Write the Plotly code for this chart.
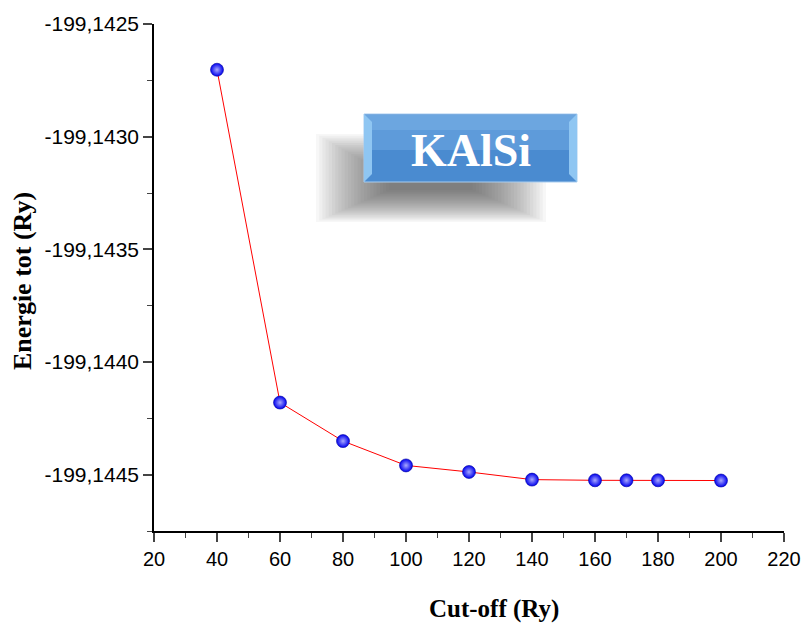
import plotly.graph_objects as go

cutoff = [40, 60, 80, 100, 120, 140, 160, 170, 180, 200]
energy = [-199.142703, -199.144180, -199.144351, -199.144459, -199.144488,
          -199.144522, -199.144525, -199.144525, -199.144525, -199.144526]

y_ticks = [-199.1445, -199.1440, -199.1435, -199.1430, -199.1425]
y_ticktext = ["-199,1445", "-199,1440", "-199,1435", "-199,1430", "-199,1425"]
y_minor = [-199.14475, -199.14425, -199.14375, -199.14325, -199.14275]
x_ticks = [20, 40, 60, 80, 100, 120, 140, 160, 180, 200, 220]

W, H = 804, 623
SL, SR, ST, SB = 154, 784, 24, 531          # plot area edges in screen pixels
L, T = SL, ST
R, B = W - SR, H - SB
pw, ph = W - L - R, H - T - B


def px(x):
    return (x - L) / pw


def py(y):
    return (H - B - y) / ph


fig = go.Figure()
fig.add_trace(go.Scatter(
    x=cutoff, y=energy, mode="lines+markers",
    line=dict(color="#ff0000", width=1),
    marker=dict(size=13, color="#0000ee",
                gradient=dict(type="radial", color="#a8a8ff"),
                line=dict(width=0.6, color="#0000a0")),
    showlegend=False, hoverinfo="x+y",
))

shapes = []
# soft shadow behind the label box (stacked translucent layers)
cx0, cx1, cy0, cy1 = 316, 546, 134, 222
for i in range(24):
    gx = i * 3.2
    gy = i * 1.4
    shapes.append(dict(type="rect", xref="paper", yref="paper", layer="below",
                       x0=px(cx0 + gx), x1=px(cx1 - gx), y0=py(cy1 - gy), y1=py(cy0 + gy * 1.3),
                       fillcolor="rgba(80,80,80,0.042)", line=dict(width=0)))
# label box
shapes.append(dict(type="rect", xref="paper", yref="paper",
                   x0=px(364), x1=px(577), y0=py(182), y1=py(114),
                   fillcolor="#4a8bd0", line=dict(color="#a9cdf0", width=1)))
shapes.append(dict(type="rect", xref="paper", yref="paper",
                   x0=px(365), x1=px(576), y0=py(150), y1=py(115),
                   fillcolor="#5e9bda", line=dict(width=0)))
shapes.append(dict(type="rect", xref="paper", yref="paper",
                   x0=px(365), x1=px(576), y0=py(130), y1=py(115),
                   fillcolor="#6ca6e0", line=dict(width=0)))
shapes.append(dict(type="path", xref="paper", yref="paper",
                   path=f"M {px(364)},{py(114)} L {px(372)},{py(122)} L {px(372)},{py(174)} L {px(364)},{py(182)} Z",
                   fillcolor="#8fc6f2", line=dict(width=0)))
shapes.append(dict(type="path", xref="paper", yref="paper",
                   path=f"M {px(577)},{py(114)} L {px(569)},{py(122)} L {px(569)},{py(174)} L {px(577)},{py(182)} Z",
                   fillcolor="#8fc6f2", line=dict(width=0)))

fig.update_layout(
    width=W, height=H,
    margin=dict(l=L, r=R, t=T, b=B),
    plot_bgcolor="white", paper_bgcolor="white",
    shapes=shapes,
    annotations=[
        dict(text="<b>KAlSi</b>", xref="paper", yref="paper",
             x=px(470.5), y=py(151), xanchor="center", yanchor="middle", showarrow=False,
             font=dict(family="Liberation Serif", size=46, color="white")),
        dict(text="<b>Cut-off (Ry)</b>", xref="paper", yref="paper",
             x=px(494), y=py(609), xanchor="center", yanchor="middle", showarrow=False,
             font=dict(family="Liberation Serif", size=25, color="black")),
        dict(text="<b>Energie tot (Ry)</b>", xref="paper", yref="paper", textangle=-90,
             x=px(23), y=py(281), xanchor="center", yanchor="middle", showarrow=False,
             font=dict(family="Liberation Serif", size=26, color="black")),
    ],
    xaxis=dict(
        range=[20, 220], tickvals=x_ticks, ticks="outside", ticklen=9, tickwidth=1.5,
        showline=True, linecolor="black", linewidth=1.5, showgrid=False, zeroline=False,
        automargin=False,
        minor=dict(ticks="outside", ticklen=5, tickwidth=1.2, dtick=10, tick0=0, showgrid=False),
        tickfont=dict(family="Liberation Sans", size=20, color="black"),
    ),
    yaxis=dict(
        range=[-199.14475, -199.1425], tickvals=y_ticks, ticktext=y_ticktext,
        ticks="outside", ticklen=9, tickwidth=1.5, automargin=False,
        showline=True, linecolor="black", linewidth=1.5, showgrid=False, zeroline=False,
        minor=dict(ticks="outside", ticklen=5, tickwidth=1.2, tickvals=y_minor, showgrid=False),
        tickfont=dict(family="Liberation Sans", size=21, color="black"),
    ),
)

fig.write_html("out.html", config={"displayModeBar": False},
               post_script="document.body.style.margin='0';document.body.style.overflow='hidden';")
